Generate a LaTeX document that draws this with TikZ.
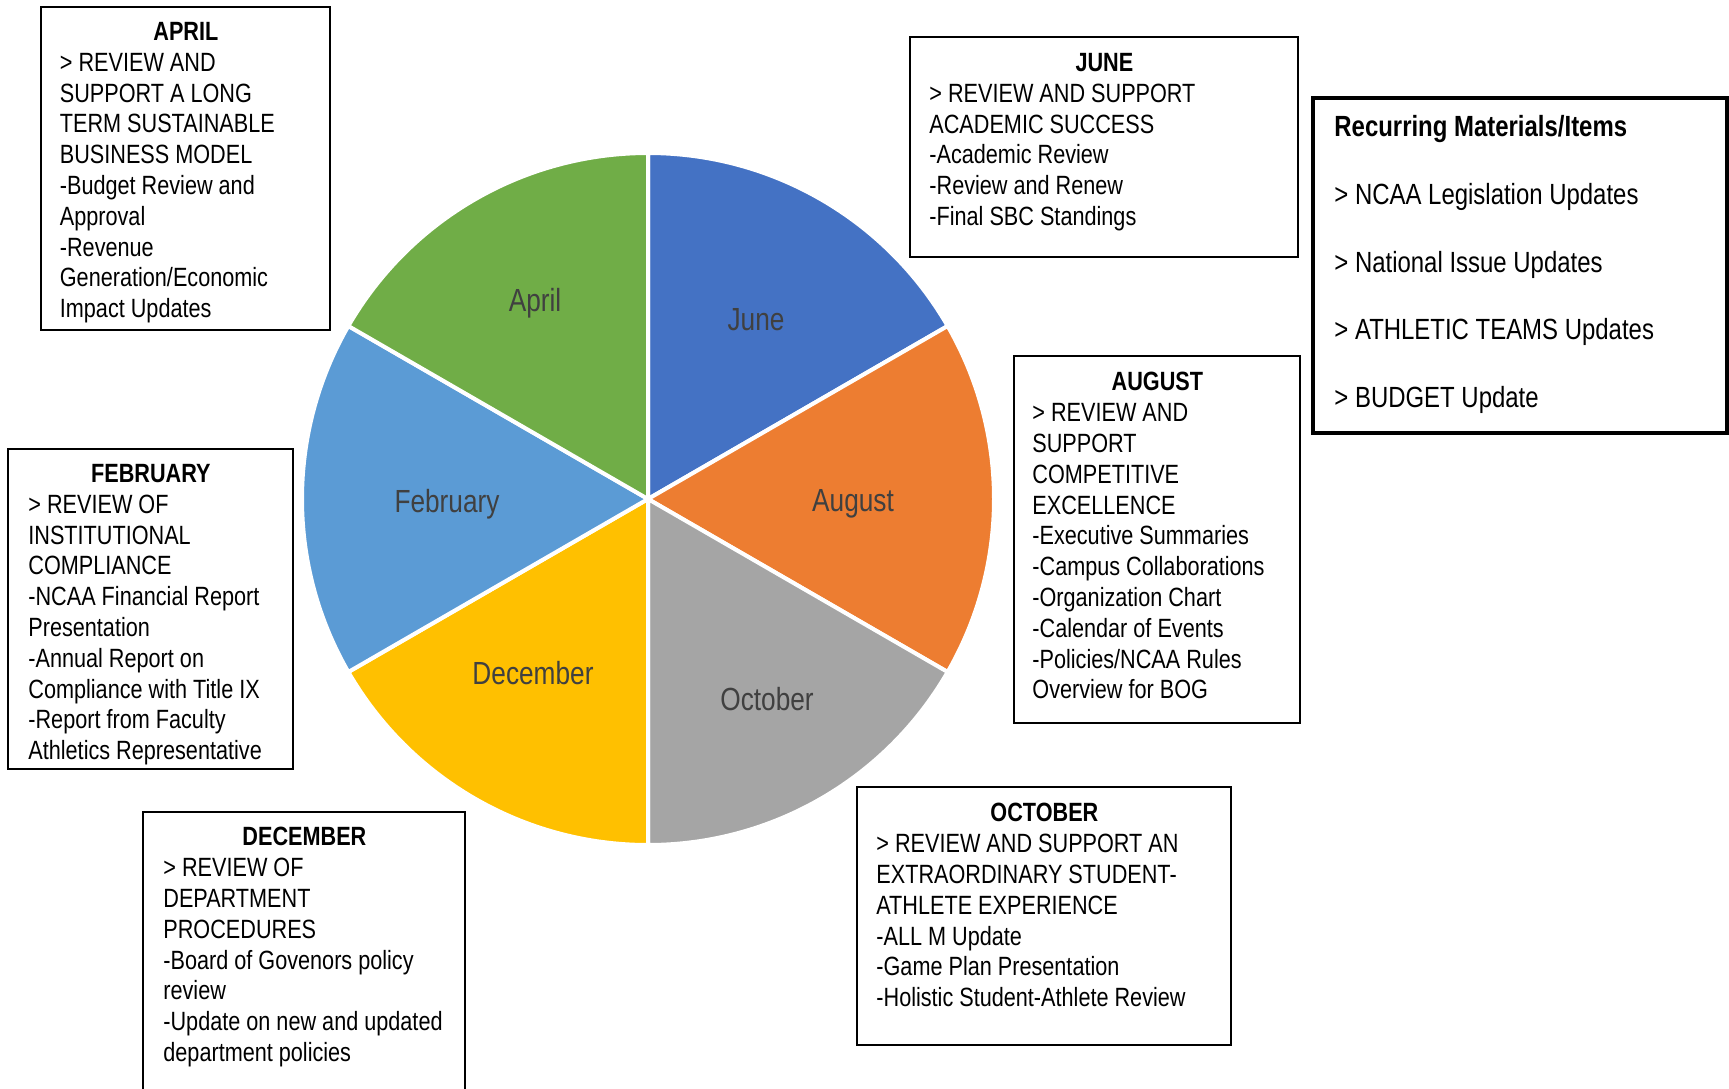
\documentclass[tikz,border=0pt]{standalone}
\usepackage{fontspec}
\setmainfont{Liberation Sans}[FakeStretch=0.82]
\usepackage{tikz}
\usetikzlibrary{positioning}

\definecolor{juneblue}{RGB}{68,114,196}
\definecolor{augorange}{RGB}{237,125,49}
\definecolor{octgray}{RGB}{165,165,165}
\definecolor{decyellow}{RGB}{255,192,0}
\definecolor{febblue}{RGB}{91,155,213}
\definecolor{aprgreen}{RGB}{112,173,71}
\definecolor{labelgray}{RGB}{64,64,64}

\newcommand{\boxhead}[2]{\makebox[#1pt][c]{\bfseries #2}}

\tikzset{
  monthbox/.style={draw, line width=0.8pt, anchor=north west, inner sep=0pt, outer sep=0pt},
  monthtext/.style={anchor=north west, inner sep=0pt, align=left, font=\fontsize{13.2}{15.4}\selectfont},
  slicelabel/.style={text=labelgray, inner sep=0pt, font=\fontsize{16}{19}\selectfont},
}

\begin{document}
\begin{tikzpicture}[x=0.5pt,y=0.5pt,yscale=-1,xscale=1]
\path[use as bounding box, clip] (0,0) rectangle (1729,1088);

%Pie slices
\coordinate (ctr) at (648,499);
\foreach \ang/\col in {-90/juneblue,-30/augorange,30/octgray,90/decyellow,150/febblue,210/aprgreen}
  \filldraw[fill=\col, draw=white, line width=2pt, line join=round] (ctr) -- ++(\ang:346) arc[start angle=\ang, delta angle=60, radius=346] -- cycle;

% Slice labels
\node[slicelabel] (junelbl) at (756,320) {June};
\node[slicelabel] (auglbl) at (853,504) {August};
\node[slicelabel] (octlbl) at (767,699) {October};
\node[slicelabel] (declbl) at (533,673) {December};
\node[slicelabel] (feblbl) at (447,504) {February};
\node[slicelabel] (aprlbl) at (535,303) {April};

% April
\node[monthbox, minimum width=144.5pt, minimum height=161.5pt] (aprbox) at (41,7) {};
\node[monthtext] (aprtext) at (59.5,22) {\boxhead{126}{APRIL}\\
> REVIEW AND\\
SUPPORT A LONG\\
TERM SUSTAINABLE\\
BUSINESS MODEL\\
-Budget Review and\\
Approval\\
-Revenue\\
Generation/Economic\\
Impact Updates};

% June
\node[monthbox, minimum width=194pt, minimum height=110pt] (junebox) at (910,37) {};
\node[monthtext] (junetext) at (929,53) {\boxhead{175}{JUNE}\\
> REVIEW AND SUPPORT\\
ACADEMIC SUCCESS\\
-Academic Review\\
-Review and Renew\\
-Final SBC Standings};

% Recurring
\node[monthbox, line width=1.75pt, minimum width=207pt, minimum height=167.5pt] (recbox) at (1313,98) {};
\node[monthtext, font=\fontsize{14.6}{33.9}\selectfont] (rectext) at (1334,115) {\textbf{Recurring Materials/Items}\\
> NCAA Legislation Updates\\
> National Issue Updates\\
> ATHLETIC TEAMS Updates\\
> BUDGET Update};

% August
\node[monthbox, minimum width=143pt, minimum height=183.5pt] (augbox) at (1014,356) {};
\node[monthtext] (augtext) at (1032,372) {\boxhead{125}{AUGUST}\\
> REVIEW AND\\
SUPPORT\\
COMPETITIVE\\
EXCELLENCE\\
-Executive Summaries\\
-Campus Collaborations\\
-Organization Chart\\
-Calendar of Events\\
-Policies/NCAA Rules\\
Overview for BOG};

% February
\node[monthbox, minimum width=142.5pt, minimum height=160pt] (febbox) at (8,449) {};
\node[monthtext] (febtext) at (28,464) {\boxhead{122.5}{FEBRUARY}\\
> REVIEW OF\\
INSTITUTIONAL\\
COMPLIANCE\\
-NCAA Financial Report\\
Presentation\\
-Annual Report on\\
Compliance with Title IX\\
-Report from Faculty\\
Athletics Representative};

% December
\node[monthbox, minimum width=161pt, minimum height=150pt] (decbox) at (143,812) {};
\node[monthtext] (dectext) at (163,827) {\boxhead{141}{DECEMBER}\\
> REVIEW OF\\
DEPARTMENT\\
PROCEDURES\\
-Board of Govenors policy\\
review\\
-Update on new and updated\\
department policies};

% October
\node[monthbox, minimum width=187pt, minimum height=129pt] (octbox) at (857,787) {};
\node[monthtext] (octtext) at (876,803) {\boxhead{168}{OCTOBER}\\
> REVIEW AND SUPPORT AN\\
EXTRAORDINARY STUDENT-\\
ATHLETE EXPERIENCE\\
-ALL M Update\\
-Game Plan Presentation\\
-Holistic Student-Athlete Review};

\end{tikzpicture}
\end{document}
